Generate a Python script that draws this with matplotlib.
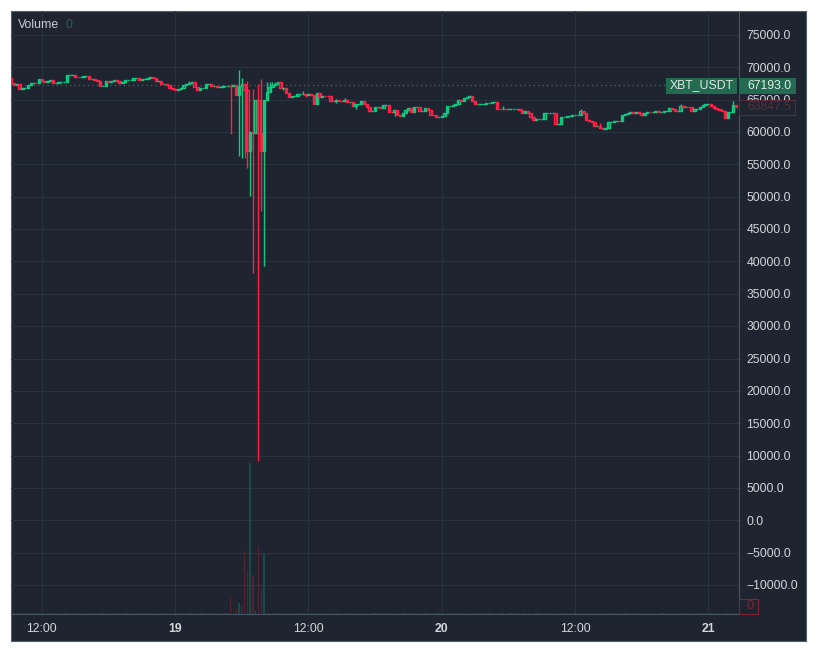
import matplotlib
matplotlib.use("Agg")
import matplotlib.pyplot as plt
from matplotlib.patches import Rectangle
from matplotlib.transforms import ScaledTranslation

plt.rcParams['font.family'] = ['Liberation Sans', 'DejaVu Sans']

W, H = 817, 652
BG = '#1e2530'
GRID = '#28323e'
SEP = '#4a5666'
UP = '#0fc982'
DOWN = '#ff2145'
TAG = '#226a50'
TXT = '#d3d6dc'
FS = 8.85

symbol = 'XBT_USDT'
first_open = 68300
closes = [
 67629,67268,67422,66701,66752,66752,67319,67629,67629,67577,
 68144,67938,67783,67938,67990,67629,67629,67680,67680,67680,
 68763,68763,68763,68557,68453,68505,68608,68608,68144,68144,
 68092,67886,67165,67165,67938,67783,67938,67990,67886,67629,
 67680,67990,67990,67990,68299,68299,68092,68196,68247,68299,
 68453,68299,67938,67938,67474,67474,67268,66855,66598,66546,
 66649,66855,67319,67371,67629,67680,66907,66546,66855,66855,
 67371,67371,67061,67113,66907,66907,67165,67165,67165,67114,
 67191,65722,67067,67346,66448,57108,59954,59877,64949,59923,
 57062,64949,66139,67005,67191,67423,67779,66753,66753,65980,
 65464,65516,65516,65825,65825,65876,65773,65825,65773,64278,
 65980,65464,65619,65567,65516,64845,64794,64897,64845,64794,
 64897,64588,64639,64021,64278,64381,64742,64330,63814,63299,
 63299,63814,63917,63660,64124,64124,63144,63093,63453,62577,
 62423,62887,63350,63660,63144,63814,63814,63299,63299,63660,
 63402,62680,62629,62371,62371,62423,62887,63969,64021,64227,
 64278,64897,64845,65309,65464,65516,64742,64278,64278,64330,
 64381,64433,64485,64588,64588,63608,63505,63557,63505,63505,
 63505,63505,63505,63453,62990,63196,62887,62371,61804,62010,
 62010,62062,62887,62887,62887,62887,61185,61185,62371,62371,
 62423,62526,62577,62577,62577,63299,62990,61856,61752,61598,
 60928,60928,60618,60515,60618,61598,61598,61752,61752,61649,
 62629,62732,62990,63093,62990,63041,62887,62629,62990,63093,
 63041,63041,63196,63144,63144,63196,63299,63660,63557,63196,
 63196,64072,63917,63917,63814,63299,63505,63505,63814,64227,
 64278,64278,63969,63660,63505,63402,63299,62113,63041,63144,
 64175,63847.5,
]
wick_highs = {64:67886, 79:67346, 82:69588, 83:68351, 84:67423, 85:67887, 86:60000,
              87:66651, 89:67423, 90:68196, 92:67685, 93:67733, 94:67733, 95:67733,
              105:66289, 117:65052, 120:65206, 177:64021, 205:63505, 212:61443,
              241:64330, 260:64845}
wick_lows = {79:59645, 82:56335, 83:56027, 84:56027, 85:54479, 86:50150, 87:38243,
             89:9124, 90:47830, 91:39279, 98:66495, 106:65361, 117:64536, 123:63917,
             124:63608, 130:63196, 138:62526}
tiny_volume = 50
volume_spikes = {79:785, 81:285, 82:535, 83:400, 84:3135, 85:2200, 86:7535, 87:1935,
                 88:200, 89:3400, 90:1235, 91:3050}
tick_positions = [11, 59, 107, 155, 203, 251]
tick_labels = ['12:00', '19', '12:00', '20', '12:00', '21']
price_ticks = list(range(75000, -15000, -5000))
last_label = 67193.0
current_label = 63847.5

n = len(closes)
opens = [first_open] + closes[:-1]
highs = [max(wick_highs.get(i, 0), opens[i], closes[i]) for i in range(n)]
lows = [min(wick_lows.get(i, 1e9), opens[i], closes[i]) for i in range(n)]
volumes = [volume_spikes.get(i, tiny_volume) for i in range(n)]
colors = [UP if c >= o else DOWN for o, c in zip(opens, closes)]
xs = list(range(n))


def pix_axes(x0, y0, x1, y1, **kw):
    return fig.add_axes([x0 / W, 1 - y1 / H, (x1 - x0) / W, (y1 - y0) / H], **kw)


fig = plt.figure(figsize=(W / 100, H / 100), dpi=100, facecolor='white')

frame = pix_axes(10.5, 10.5, 806.5, 641)
frame.set_facecolor(BG)
frame.set_xticks([]); frame.set_yticks([])
for s in frame.spines.values():
    s.set_color('#55606e'); s.set_linewidth(0.8)

ax = pix_axes(11, 11, 739, 614)
ax.patch.set_alpha(0)
ax.set_xlim(-0.108, 262.05)
ax.set_ylim(-14473, 78697)
for s in ('top', 'left'):
    ax.spines[s].set_visible(False)
for s in ('bottom', 'right'):
    ax.spines[s].set_color(SEP); ax.spines[s].set_linewidth(0.8)
ax.set_axisbelow(True)
ax.grid(True, color=GRID, lw=0.8)
ax.yaxis.tick_right()
ax.set_yticks(price_ticks)
ax.set_yticklabels([f'{p:.1f}'.replace('-', '\u2212') for p in price_ticks], color=TXT, fontsize=FS)
ax.tick_params(axis='y', length=0, pad=5.3)
ax.set_xticks(tick_positions)
ax.set_xticklabels(tick_labels, color=TXT, fontsize=FS)
ax.tick_params(axis='x', length=0, pad=6.5)
up_shift = ScaledTranslation(0, 0.2 / 100, fig.dpi_scale_trans)
for lab in ax.get_yticklabels():
    lab.set_transform(lab.get_transform() + up_shift)
for lab, t in zip(ax.get_xticklabels(), tick_labels):
    if t.isdigit():
        lab.set_fontweight('bold')

# price line
ax.axhline(last_label, color='#3f6a5e', lw=0.9, ls=(0, (1, 2.6)), zorder=1.5)

# candles
ax.vlines(xs, lows, highs, colors=colors, lw=1.0, zorder=3)
bottoms = [min(o, c) for o, c in zip(opens, closes)]
heights = [abs(o - c) for o, c in zip(opens, closes)]
faces = [(*matplotlib.colors.to_rgb(c), 0.25) for c in colors]
ax.bar(xs, heights, 0.85, bottom=bottoms, facecolor=faces, edgecolor=colors, linewidth=1.0, zorder=3)

# volume pane
vax = pix_axes(11, 11, 739, 614)
vax.patch.set_alpha(0)
vax.axis('off')
vax.set_xlim(ax.get_xlim())
vax.set_ylim(0, 30150)
vcols = ['#1f6b58' if c == UP else '#8a2238' for c in colors]
vax.bar(xs, volumes, 0.5, color=vcols, alpha=0.5, linewidth=0, zorder=2)


def fx(x):
    return x / W


def fy(y):
    return 1 - y / H


fig.text(fx(18), fy(25.5), 'Volume', color='#c9ccd2', fontsize=FS, va='center', ha='left')
fig.text(fx(65), fy(25.5), '0', color='#1c6a52', fontsize=FS, va='center', ha='left')

cover = pix_axes(0, 0, W, H)
cover.set_xlim(0, W); cover.set_ylim(H, 0)
cover.axis('off'); cover.patch.set_alpha(0)
cover.add_patch(Rectangle((666, 78), 71.5, 16, fc=TAG, ec='none'))
cover.text(670, 85.2, symbol, color='#dfe8e4', fontsize=FS, va='center', ha='left')
cover.add_patch(Rectangle((739.5, 78), 56.5, 16, fc=TAG, ec='none'))
cover.text(747, 85.6, f'{last_label:.1f}', color='#e4ece8', fontsize=FS, va='center', ha='left')
cover.add_patch(Rectangle((739.5, 100), 56, 15, fc=BG, ec='#5a2c3a', lw=0.8))
cover.text(747, 107.3, f'{current_label:.1f}', color='#5e2c3a', fontsize=FS, va='center', ha='left')
cover.add_patch(Rectangle((739.5, 598.5), 19, 15.5, fc=BG, ec='#7d2436', lw=0.8))
cover.text(747, 606.3, '0', color='#7d2436', fontsize=FS, va='center', ha='left')

fig.savefig('out.png', dpi=100, facecolor='white')
